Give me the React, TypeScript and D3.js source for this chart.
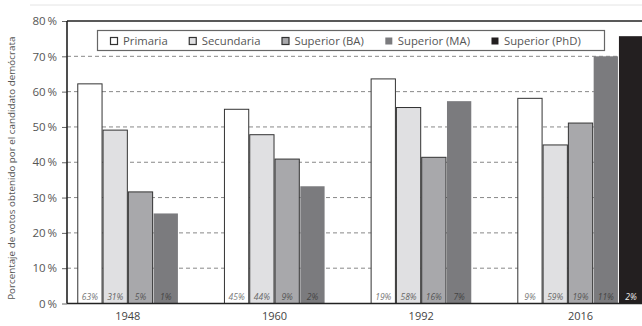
import { useEffect, useRef } from 'react';
import * as d3 from 'd3';

const years = ['1948', '1960', '1992', '2016'];
const seriesNames = ['Primaria', 'Secundaria', 'Superior (BA)', 'Superior (MA)', 'Superior (PhD)'];

// % de votos para el candidato demócrata por nivel educativo
const primaria = [62.2, 55.0, 63.6, 58.1];
const secundaria = [49.1, 47.8, 55.5, 44.9];
const superiorBA = [31.6, 40.9, 41.4, 51.1];
const superiorMA = [25.5, 33.2, 57.3, 70.0];
const superiorPhD = [null, null, null, 75.7];

// peso de cada grupo en la población (texto al pie de cada barra)
const sharePrimaria = ['63%', '45%', '19%', '9%'];
const shareSecundaria = ['31%', '44%', '58%', '59%'];
const shareBA = ['5%', '9%', '16%', '19%'];
const shareMA = ['1%', '2%', '7%', '11%'];
const sharePhD = [null, null, null, '2%'];

const yTicks = [0, 10, 20, 30, 40, 50, 60, 70, 80];

const fills = ['#ffffff', '#e0e0e2', '#a8a8ab', '#7b7b7e', '#231f20'];
const strokes = ['#333', '#333', '#333', 'none', 'none'];
const labelColors = ['#777', '#666', '#555', '#444', '#eee'];

export default function App() {
  const svgRef = useRef<SVGSVGElement>(null);

  useEffect(() => {
    if (!svgRef.current) return;
    const width = 642;
    const height = 326;
    const margin = { top: 21, left: 67, bottom: 22 };
    const plotRight = 654; // la imagen está recortada a la derecha

    const svg = d3.select(svgRef.current);
    svg.selectAll('*').remove();
    svg.attr('width', width).attr('height', height);

    const font = "'Open Sans', 'DejaVu Sans', sans-serif";
    const values = [primaria, secundaria, superiorBA, superiorMA, superiorPhD];
    const shares = [sharePrimaria, shareSecundaria, shareBA, shareMA, sharePhD];

    const y = d3.scaleLinear().domain([0, 80]).range([height - margin.bottom - 0.5, margin.top]);
    const x0 = d3.scaleBand().domain(years).range([margin.left, plotRight])
      .paddingInner(0.138).paddingOuter(0.07);
    const x1 = d3.scaleBand().domain(seriesNames).range([0, x0.bandwidth()]);

    // línea clara superior (borde de la página escaneada)
    svg.append('line')
      .attr('x1', 30).attr('x2', width).attr('y1', 5).attr('y2', 5)
      .attr('stroke', '#e4e4e4').attr('stroke-width', 1);

    // rejilla
    svg.append('g')
      .selectAll('line')
      .data(yTicks.filter(t => t > 0 && t < 80))
      .enter()
      .append('line')
      .attr('x1', margin.left).attr('x2', plotRight)
      .attr('y1', d => y(d)).attr('y2', d => y(d))
      .attr('stroke', '#888').attr('stroke-width', 1)
      .attr('stroke-dasharray', '4,3');

    // eje Y
    const yAxis = svg.append('g')
      .attr('transform', `translate(${margin.left},0)`)
      .call(d3.axisLeft(y).tickValues(yTicks).tickSize(5).tickPadding(5)
        .tickFormat(d => `${d}\u2009%`));
    yAxis.select('.domain').remove();
    yAxis.selectAll('line').attr('stroke', '#666');
    yAxis.selectAll('text')
      .style('font-family', font)
      .style('font-size', '11.5px')
      .attr('fill', '#555');

    // barras
    years.forEach((yr, i) => {
      const g = svg.append('g').attr('transform', `translate(${x0(yr)},0)`);
      seriesNames.forEach((s, j) => {
        const v = values[j][i];
        if (v == null) return;
        g.append('rect')
          .attr('x', (x1(s) as number) + 0.5)
          .attr('y', y(v))
          .attr('width', x1.bandwidth() - 1)
          .attr('height', y(0) - y(v))
          .attr('fill', fills[j])
          .attr('stroke', strokes[j])
          .attr('stroke-width', 1);
        const lab = shares[j][i];
        if (lab) {
          g.append('text')
            .attr('x', (x1(s) as number) + x1.bandwidth() / 2)
            .attr('y', y(0) - 4)
            .attr('text-anchor', 'middle')
            .style('font-family', font)
            .style('font-size', '8.5px')
            .style('font-style', 'italic')
            .attr('fill', labelColors[j])
            .text(lab);
        }
      });
      // etiqueta del año centrada en las barras presentes
      const present = seriesNames.filter((_, j) => values[j][i] != null);
      const cx = (x0(yr) as number) + (x1.bandwidth() * present.length) / 2;
      svg.append('text')
        .attr('x', cx)
        .attr('y', height - 6)
        .attr('text-anchor', 'middle')
        .style('font-family', font)
        .style('font-size', '11px')
        .attr('fill', '#444')
        .text(yr);
    });

    // marco: arriba, izquierda, abajo
    svg.append('line')
      .attr('x1', margin.left).attr('x2', width)
      .attr('y1', margin.top).attr('y2', margin.top)
      .attr('stroke', '#222').attr('stroke-width', 1.6);
    svg.append('line')
      .attr('x1', margin.left).attr('x2', margin.left)
      .attr('y1', margin.top).attr('y2', y(0))
      .attr('stroke', '#222').attr('stroke-width', 1.6);
    svg.append('line')
      .attr('x1', margin.left).attr('x2', width)
      .attr('y1', y(0)).attr('y2', y(0))
      .attr('stroke', '#222').attr('stroke-width', 1.6);

    // título eje Y
    svg.append('text')
      .attr('transform', `translate(15,${(margin.top + y(0)) / 2 + 6}) rotate(-90)`)
      .attr('text-anchor', 'middle')
      .style('font-family', font)
      .style('font-size', '9.8px')
      .attr('fill', '#555')
      .text('Porcentaje de votos obtenido por el candidato demócrata');

    // leyenda
    const legend = svg.append('g');
    legend.append('rect')
      .attr('x', 97.5).attr('y', 30.5).attr('width', 507).attr('height', 20)
      .attr('fill', '#fff').attr('stroke', '#666').attr('stroke-width', 1.2);
    let lx = 110;
    seriesNames.forEach((s, j) => {
      legend.append('rect')
        .attr('x', lx + 0.5).attr('y', 37.5).attr('width', 7).attr('height', 7)
        .attr('fill', fills[j])
        .attr('stroke', j < 3 ? '#333' : 'none').attr('stroke-width', 1.2);
      const t = legend.append('text')
        .attr('x', lx + 13)
        .attr('y', 45)
        .style('font-family', font)
        .style('font-size', '11.3px')
        .attr('fill', '#555')
        .text(s);
      const w = (t.node() as SVGTextElement).getComputedTextLength();
      lx += 13 + w + 21;
    });
  }, []);

  return (
    <svg ref={svgRef} style={{ position: 'absolute', left: 0, top: 0, display: 'block', background: '#fff' }} />
  );
}
